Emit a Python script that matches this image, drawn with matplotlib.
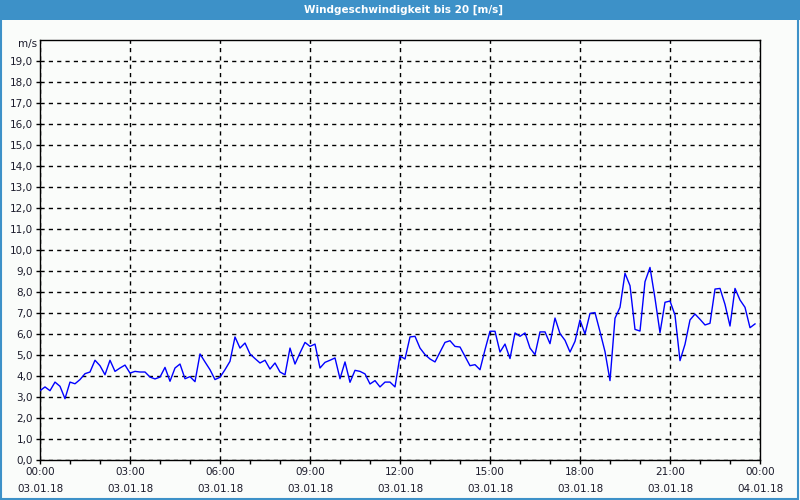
import numpy as np
import pandas as pd
import matplotlib
matplotlib.use("Agg")
import matplotlib.pyplot as plt
import matplotlib.dates as mdates
from matplotlib.patches import Rectangle

title = "Windgeschwindigkeit bis 20 [m/s]"
unit = "m/s"

# wind speed every 10 minutes, 03.01.18 00:00 .. 23:50
speed = [
    3.30, 3.48, 3.30, 3.71, 3.51, 2.92, 3.71, 3.63, 3.83, 4.11, 4.19, 4.75,
    4.49, 4.06, 4.75, 4.22, 4.38, 4.52, 4.14, 4.22, 4.19, 4.19, 3.95, 3.86,
    3.95, 4.41, 3.75, 4.38, 4.57, 3.87, 3.97, 3.73, 5.05, 4.67, 4.30, 3.83,
    3.94, 4.30, 4.70, 5.86, 5.33, 5.57, 5.05, 4.83, 4.62, 4.75, 4.33, 4.62,
    4.19, 4.06, 5.33, 4.57, 5.10, 5.60, 5.41, 5.52, 4.38, 4.65, 4.75, 4.86,
    3.87, 4.67, 3.70, 4.27, 4.22, 4.10, 3.62, 3.78, 3.48, 3.71, 3.71, 3.48,
    4.95, 4.81, 5.86, 5.89, 5.33, 5.02, 4.81, 4.67, 5.13, 5.60, 5.68, 5.41,
    5.38, 4.94, 4.49, 4.54, 4.30, 5.25, 6.13, 6.13, 5.14, 5.52, 4.83, 6.05,
    5.89, 6.05, 5.33, 5.02, 6.10, 6.10, 5.54, 6.76, 6.02, 5.70, 5.14, 5.65,
    6.67, 6.00, 6.98, 7.02, 6.11, 5.16, 3.78, 6.75, 7.27, 8.89, 8.30, 6.22,
    6.14, 8.49, 9.17, 7.70, 6.06, 7.51, 7.57, 6.90, 4.73, 5.51, 6.67, 6.95,
    6.70, 6.43, 6.51, 8.14, 8.17, 7.41, 6.38, 8.17, 7.62, 7.27, 6.30, 6.48,
]
times = pd.date_range("2018-01-03 00:00", periods=len(speed), freq="10min")
t_start = pd.Timestamp("2018-01-03 00:00")
t_end = pd.Timestamp("2018-01-04 00:00")

bg = "#fafcfa"
bar_blue = "#3d91c8"
txt = "#1c1c2c"

fig = plt.figure(figsize=(8, 5), dpi=100, facecolor=bg)
fig.patches.append(Rectangle((0, 0.96), 1, 0.04, transform=fig.transFigure,
                             facecolor=bar_blue, edgecolor="none", zorder=0))
fig.patches.append(Rectangle((0.001, 0.002), 0.997, 0.996, transform=fig.transFigure,
                             facecolor="none", edgecolor=bar_blue, lw=1.5, zorder=5))
fig.text(0.505, 0.98, title, color="white", ha="center", va="center",
         fontsize=7.5, fontweight="bold")

ax = fig.add_axes([0.05, 0.08, 0.90, 0.84])
ax.set_facecolor(bg)
ax.plot(times, speed, color="#0000ff", lw=1.0, zorder=3)

ax.set_xlim(t_start, t_end)
ax.set_ylim(0, 20)
ax.set_yticks(np.arange(0, 20, 1))
ax.set_yticklabels([f"{v:.1f}".replace(".", ",") for v in range(20)])
ax.xaxis.set_major_locator(mdates.HourLocator(byhour=range(0, 24, 3)))
ax.xaxis.set_minor_locator(mdates.HourLocator())
ax.xaxis.set_major_formatter(mdates.DateFormatter("%H:%M\n%d.%m.%y"))

ax.tick_params(axis="both", which="both", labelsize=7.5, colors="black",
               labelcolor=txt, length=3, width=1, direction="out")
ax.tick_params(axis="x", pad=2)
ax.tick_params(axis="y", pad=2)
for lab in ax.get_xticklabels():
    lab.set_linespacing(1.9)

ax.grid(True, which="major", color="black", ls=(0, (3, 3)), lw=1.0)
for s in ax.spines.values():
    s.set_color("black")
    s.set_linewidth(1.0)

fig.text(0.047, 0.911, unit, ha="right", va="center", fontsize=7.5, color=txt)

fig.savefig("out.png", dpi=100, facecolor=bg)
